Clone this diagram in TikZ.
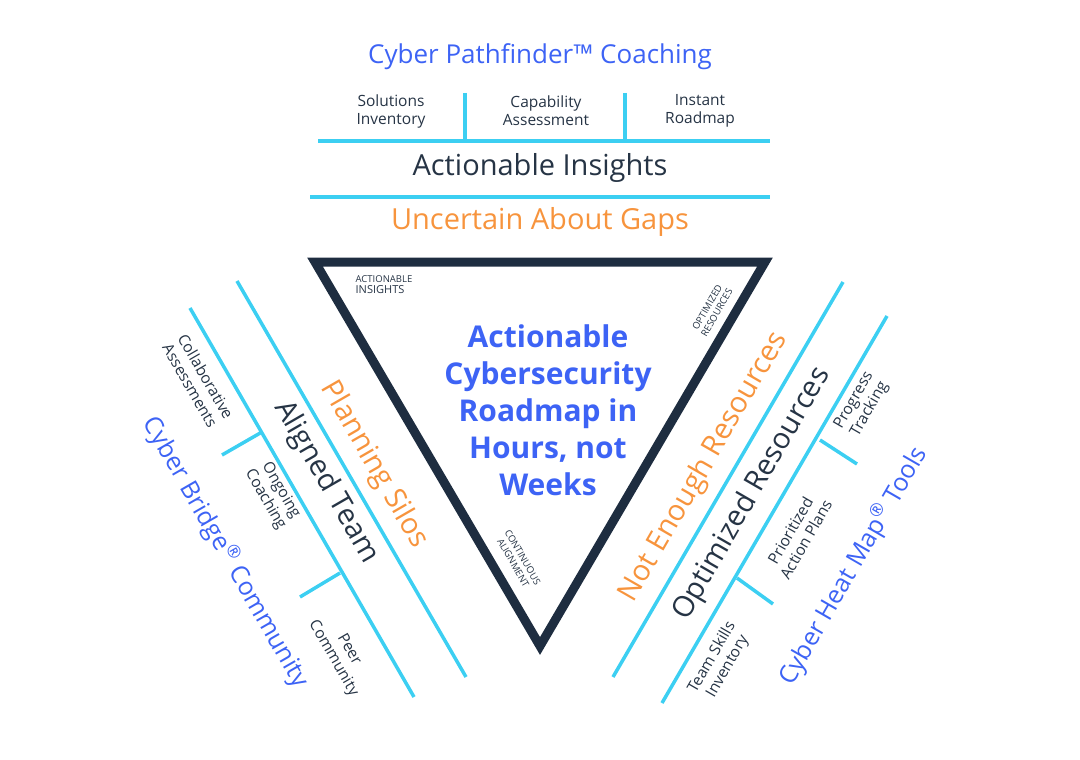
\documentclass[tikz,border=0pt]{standalone}
\usepackage{fontspec}
\setmainfont{Open Sans}
\usepackage{xcolor}
\definecolor{pathblue}{HTML}{3D63F5}
\definecolor{gaporange}{HTML}{F7943D}
\definecolor{linecyan}{HTML}{3CCFF2}
\definecolor{navy}{HTML}{1E2D40}
\definecolor{textdark}{HTML}{263445}
\tikzset{
  rule/.style={draw=linecyan,line width=3.5pt},
  small/.style={text=textdark,font=\fontsize{15.5}{18}\selectfont,align=center},
  big/.style={font=\fontsize{29}{29}\selectfont,align=center},
  tiny/.style={text=textdark,font=\fontsize{9.5}{11}\selectfont,align=center}
}
\begin{document}
\begin{tikzpicture}[x=1pt,y=-1pt]
\useasboundingbox (0,0) rectangle (1080,760);
% top block
\node[big,text=pathblue,font=\fontsize{26}{26}\selectfont] (title) at (540,57) {Cyber Pathfinder\texttrademark\ Coaching};
\node[small] (solutions) at (391,111) {Solutions\\Inventory};
\node[small] (capability) at (546,111) {Capability\\Assessment};
\node[small] (instant) at (700,111) {Instant\\Roadmap};
\draw[rule] (465,93) -- (465,140);
\draw[rule] (625,93) -- (625,140);
\draw[rule] (318,141) coordinate (tl1) -- (770,141) coordinate (tr1);
\node[big,text=textdark] (insights) at (540,168) {Actionable Insights};
\draw[rule] (310,197) coordinate (tl2) -- (770,197) coordinate (tr2);
\node[big,text=gaporange] (gaps) at (540,222) {Uncertain About Gaps};
% triangle
\draw[navy,line width=9pt,line join=miter] (315,262) coordinate (ta) -- (765,262) coordinate (tb) -- (540,646) coordinate (tc) -- cycle;
\node[font=\fontsize{30}{37}\selectfont\bfseries,text=pathblue,align=center] (core) at (548,410) {Actionable\\Cybersecurity\\Roadmap in\\Hours, not\\Weeks};
\node[tiny,align=left] (cornerA) at (384,285) {ACTIONABLE\\{\fontsize{11}{11}\selectfont INSIGHTS}};
\node[tiny,rotate=60] (cornerB) at (712,310) {OPTIMIZED\\RESOURCES};
\node[tiny,rotate=-60] (cornerC) at (518,560) {CONTINUOUS\\ALIGNMENT};
% left side
\draw[rule] (237,281) -- (466,677);
\draw[rule] (190,308) -- (414,697);
\draw[rule] (222,455) -- (262,432);
\draw[rule] (300,597) -- (340,573);
\node[big,text=gaporange,rotate=-60] (silos) at (374,465) {Planning Silos};
\node[big,text=textdark,rotate=-60] (aligned) at (326,482) {Aligned Team};
\node[big,text=pathblue,rotate=-60,font=\fontsize{25}{25}\selectfont] (bridge) at (226,552) {Cyber Bridge\textsuperscript{\textregistered} Community};
\node[small,rotate=-60] (collab) at (198,381) {Collaborative\\Assessments};
\node[small,rotate=-60] (ongoing) at (273,495) {Ongoing\\Coaching};
\node[small,rotate=-60] (peer) at (341,654) {Peer\\Community};
% right side
\draw[rule] (843,282) -- (613,677);
\draw[rule] (887,316) -- (662,703);
\draw[rule] (820,440) -- (857,464);
\draw[rule] (737,578) -- (773,604);
\node[big,text=gaporange,rotate=60] (resources) at (704,467) {Not Enough Resources};
\node[big,text=textdark,rotate=60] (optimized) at (752,494) {Optimized Resources};
\node[big,text=pathblue,rotate=60,font=\fontsize{25}{25}\selectfont] (heatmap) at (853,566) {Cyber Heat Map\textsuperscript{\textregistered} Tools};
\node[small,rotate=60] (progress) at (862,405) {Progress\\Tracking};
\node[small,rotate=60] (prioritized) at (798,535) {Prioritized\\Action Plans};
\node[small,rotate=60] (skills) at (720,662) {Team Skills\\Inventory};
\end{tikzpicture}
\end{document}
